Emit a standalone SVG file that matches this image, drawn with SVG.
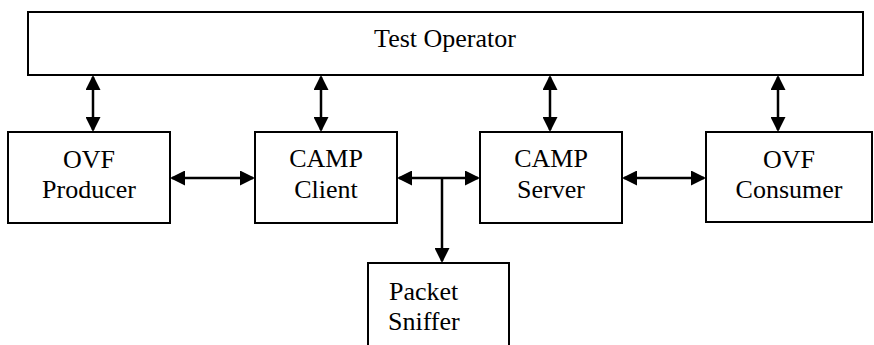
<svg xmlns="http://www.w3.org/2000/svg" width="874" height="345" viewBox="0 0 874 345">
<style>
.box{fill:#fff;stroke:#000;stroke-width:2}
text{font-family:"Times New Roman","Liberation Serif",Tinos,Times,"Nimbus Roman","DejaVu Serif","Noto Serif",serif;font-size:26px;fill:#000;text-anchor:middle}
text.tl{text-anchor:start}
.c{stroke:#000;stroke-width:2.5;fill:none}
</style>
<defs>
<marker id="ah" viewBox="0 0 15 15" refX="13" refY="7.5" markerWidth="15" markerHeight="15" markerUnits="userSpaceOnUse" orient="auto-start-reverse">
<path d="M0,0 L15,7.5 L0,15 z" fill="#000"/>
</marker>
</defs>
<rect width="874" height="345" fill="#fff"/>
<g id="test-operator"><rect class="box" x="28" y="12" width="835" height="63"/><text x="445" y="47">Test Operator</text></g>
<g id="ovf-producer"><rect class="box" x="8" y="132" width="162" height="91"/><text x="89" y="168">OVF</text><text x="89" y="198">Producer</text></g>
<g id="camp-client"><rect class="box" x="255" y="132" width="142" height="91"/><text x="326" y="167">CAMP</text><text x="326" y="198">Client</text></g>
<g id="camp-server"><rect class="box" x="480" y="132" width="142" height="91"/><text x="551" y="167">CAMP</text><text x="551" y="198">Server</text></g>
<g id="ovf-consumer"><rect class="box" x="706" y="132" width="166" height="90"/><text x="789" y="168">OVF</text><text x="789" y="198">Consumer</text></g>
<g id="packet-sniffer"><rect class="box" x="368" y="263" width="141" height="90"/><text class="tl" x="389" y="300">Packet</text><text class="tl" x="388" y="330">Sniffer</text></g>
<g id="connectors">
<line class="c" x1="93" y1="77" x2="93" y2="130" marker-start="url(#ah)" marker-end="url(#ah)"/>
<line class="c" x1="321" y1="77" x2="321" y2="130" marker-start="url(#ah)" marker-end="url(#ah)"/>
<line class="c" x1="550" y1="77" x2="550" y2="130" marker-start="url(#ah)" marker-end="url(#ah)"/>
<line class="c" x1="778" y1="77" x2="778" y2="130" marker-start="url(#ah)" marker-end="url(#ah)"/>
<line class="c" x1="172" y1="178" x2="253" y2="178" marker-start="url(#ah)" marker-end="url(#ah)"/>
<line class="c" x1="624" y1="178" x2="704" y2="178" marker-start="url(#ah)" marker-end="url(#ah)"/>
<line class="c" x1="399" y1="178" x2="478" y2="178" marker-start="url(#ah)" marker-end="url(#ah)"/>
<line class="c" x1="442" y1="178" x2="442" y2="261" marker-end="url(#ah)"/>
</g>
</svg>
